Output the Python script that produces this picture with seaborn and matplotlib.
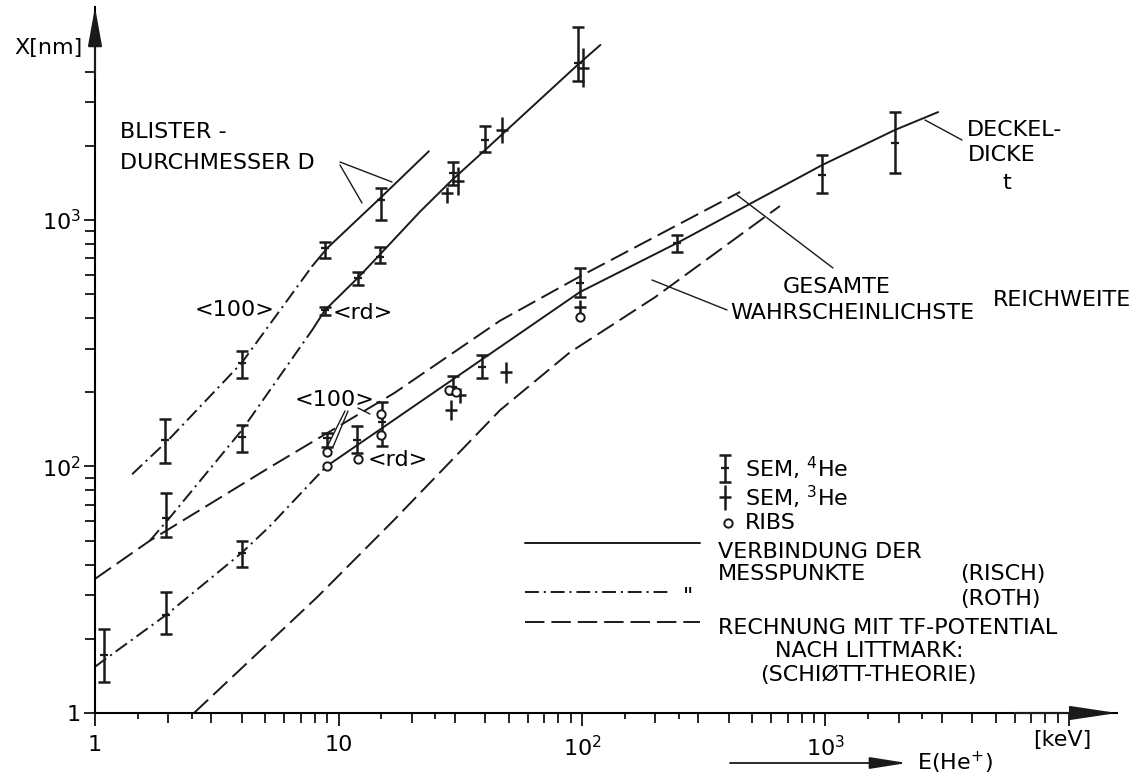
import matplotlib
matplotlib.use("Agg")
import matplotlib.pyplot as plt
from matplotlib.ticker import FixedLocator, NullFormatter, NullLocator
import numpy as np
import seaborn as sns

# ---------------- data: energies E [keV], depths / diameters X [nm] ----------------
# blister diameter D, <100> direction (ROTH dash-dot, RISCH solid)
blister100_roth_E = [1.42, 2.0, 4.0, 7.8]
blister100_roth_X = [93, 128, 263, 650]
blister100_risch_E = [7.8, 9.0, 15.0, 23.5]
blister100_risch_X = [650, 770, 1240, 1900]

# blister diameter D, random direction <rd>
blisterrd_roth_E = [1.68, 2.0, 4.0, 7.8]
blisterrd_roth_X = [50, 61, 140, 358]
blisterrd_risch_E = [7.8, 8.8, 12, 15, 21.6, 29, 40, 96, 119]
blisterrd_risch_X = [358, 431, 582, 735, 1080, 1440, 1923, 4260, 5130]

# cover thickness t
cover_roth_E = [1.0, 1.09, 1.96, 4.0, 5.2, 8.9]
cover_roth_X = [15.4, 16.4, 25, 44.6, 57, 100]
cover_risch_E = [8.9, 46, 98, 246, 968, 1930, 2900]
cover_risch_X = [100, 305, 510, 807, 1670, 2320, 2740]

# TF potential after Littmark (Schiøtt theory)
total_range_E = [1.0, 1.68, 5.2, 17, 46, 98, 446]
total_range_X = [35, 50, 99, 199, 390, 590, 1300]
probable_range_E = [2.55, 8.2, 17, 46, 89, 200, 650]
probable_range_X = [10, 29.6, 61, 169, 290, 487, 1140]

# SEM, 4He: energy, value, lower and upper end of the bar
sem4_E = [1.94, 4.0, 8.8, 15.0,
          1.96, 4.0, 8.8, 12.0, 14.8, 29.6, 40, 96,
          1.09, 1.96, 4.0, 8.96, 11.9, 15.1, 29.6, 38.8, 98, 246, 968, 1930]
sem4_X = [128, 263, 770, 1200,
          62, 132, 431, 582, 708, 1550, 2110, 4340,
          17.2, 25, 44.6, 131, 128, 151, 210, 254, 555, 807, 1525, 2050]
sem4_lo = [103, 228, 701, 1000,
           52, 115, 412, 545, 670, 1386, 1887, 3660,
           13.4, 21, 39, 120, 113, 121, 197, 228, 487, 741, 1288, 1550]
sem4_hi = [156, 294, 815, 1345,
           78, 147, 444, 615, 777, 1718, 2404, 6070,
           22, 31, 50, 137, 146, 183, 233, 283, 638, 869, 1836, 2740]

# SEM, 3He
sem3_E = [28, 31, 47, 101, 29, 31.5, 48.7, 98]
sem3_X = [1290, 1440, 2320, 4140, 169, 195, 242, 444]
sem3_lo = [1170, 1260, 2050, 3470, 155, 181, 218, 420]
sem3_hi = [1360, 1640, 2620, 4990, 186, 209, 265, 473]

# RIBS
ribs_E = [9, 9, 12, 15, 15, 28.5, 30.5, 98]
ribs_X = [115, 100, 107, 163, 134, 204, 200, 404]

x_tick_values = [1, 10, 100, 1000, 10000]
x_tick_labels = ["1", "10", "$10^2$", "$10^3$", ""]
y_tick_values = [10, 100, 1000]
y_tick_labels = ["1", "$10^2$", "$10^3$"]

# ---------------- style ----------------
sns.set_theme(style="ticks", rc={"axes.edgecolor": "black", "xtick.color": "black",
                                 "ytick.color": "black", "text.color": "black"})
plt.rcParams["font.family"] = ["DejaVu Sans"]
plt.rcParams["mathtext.default"] = "regular"
plt.rcParams["lines.scale_dashes"] = False

SOLID = "-"
DASHDOT = (0, (10, 3.5, 1.5, 3.5))
DASHED = (0, (14, 5))
LW = 1.4
FS = 16

W, H = 1144, 778
fig = plt.figure(figsize=(W / 100, H / 100), dpi=100)

AX_L, AX_R, AX_B, AX_T = 95, 1117, 713, 7
ax = fig.add_axes([AX_L / W, 1 - AX_B / H, (AX_R - AX_L) / W, (AX_B - AX_T) / H])
ax.set_xscale("log")
ax.set_yscale("log")
ax.set_xlim(1, 10 ** ((AX_R - AX_L) / 243.5))
ax.set_ylim(10, 10 ** (1 + (AX_B - AX_T) / 246.5))

for side in ("top", "right"):
    ax.spines[side].set_visible(False)
for side in ("left", "bottom"):
    ax.spines[side].set_linewidth(1.5)

# axis arrows
ax.annotate("", xy=(1.0, 0), xytext=(0.9, 0), xycoords="axes fraction",
            arrowprops=dict(arrowstyle="-|>,head_length=2.4,head_width=0.36",
                            color="k", lw=1.5, shrinkA=0, shrinkB=0))
ax.annotate("", xy=(0, 1.0), xytext=(0, 0.9), xycoords="axes fraction",
            arrowprops=dict(arrowstyle="-|>,head_length=2.0,head_width=0.36",
                            color="k", lw=1.5, shrinkA=0, shrinkB=0))

# ticks
ax.set_xticks(x_tick_values)
ax.set_xticklabels(x_tick_labels)
ax.xaxis.set_minor_locator(FixedLocator([m * 10 ** k for k in range(4) for m in range(2, 10)]))
ax.xaxis.set_minor_formatter(NullFormatter())
ax.set_yticks(y_tick_values)
ax.set_yticklabels(y_tick_labels)
ax.yaxis.set_minor_locator(FixedLocator([m * 10 ** k for k in (1, 2) for m in range(2, 10)]
                                        + [2000, 3000, 4000]))
ax.yaxis.set_minor_formatter(NullFormatter())
ax.tick_params(axis="x", which="major", length=9, width=1.2, labelsize=FS, pad=7)
ax.tick_params(axis="x", which="minor", length=7, width=1.2)
ax.tick_params(axis="y", which="major", length=8, width=1.2, labelsize=FS, pad=2)
ax.tick_params(axis="y", which="minor", length=7, width=1.2)

sec = ax.secondary_xaxis("bottom")
sec.set_xticks([m * 10 ** k for k in range(4) for m in (1.5, 2.5)])
sec.xaxis.set_minor_locator(NullLocator())
sec.xaxis.set_major_formatter(NullFormatter())
sec.tick_params(length=4, width=1.2)
sec.spines["bottom"].set_visible(False)

# ---------------- curves ----------------
def curve(E, X, ls):
    sns.lineplot(x=E, y=X, ax=ax, color="k", lw=LW, linestyle=ls,
                 sort=False, estimator=None)

curve(blister100_roth_E, blister100_roth_X, DASHDOT)
curve(blister100_risch_E, blister100_risch_X, SOLID)
curve(blisterrd_roth_E, blisterrd_roth_X, DASHDOT)
curve(blisterrd_risch_E, blisterrd_risch_X, SOLID)
curve(cover_roth_E, cover_roth_X, DASHDOT)
curve(cover_risch_E, cover_risch_X, SOLID)
curve(total_range_E, total_range_X, DASHED)
curve(probable_range_E, probable_range_X, DASHED)

# ---------------- measured points ----------------
def sem4(axis, E, X, lo, hi):
    yerr = [np.subtract(X, lo), np.subtract(hi, X)]
    axis.errorbar(E, X, yerr=yerr, fmt="none", ecolor="k", elinewidth=1.8,
                  capsize=4, capthick=1.8, zorder=3)
    sns.scatterplot(x=E, y=X, ax=axis, marker="_", s=30, color="k",
                    linewidth=1.6, zorder=3)

def sem3(axis, E, X, lo, hi):
    yerr = [np.subtract(X, lo), np.subtract(hi, X)]
    axis.errorbar(E, X, yerr=yerr, fmt="none", ecolor="k", elinewidth=1.8,
                  capsize=0, zorder=3)
    sns.scatterplot(x=E, y=X, ax=axis, marker="_", s=70, color="k",
                    linewidth=1.8, zorder=3)

def ribs(axis, E, X):
    sns.scatterplot(x=E, y=X, ax=axis, marker="o", s=36, color="white",
                    edgecolor="k", linewidth=1.4, zorder=4)

sem4(ax, sem4_E, sem4_X, sem4_lo, sem4_hi)
sem3(ax, sem3_E, sem3_X, sem3_lo, sem3_hi)
ribs(ax, ribs_E, ribs_X)

# ---------------- overlay for labels, leaders and legend (pixel space) ----------------
ov = fig.add_axes([0, 0, 1, 1], zorder=5)
ov.set_xlim(0, W)
ov.set_ylim(H, 0)
ov.axis("off")
ov.patch.set_alpha(0)

def label(x, y, s, ha="left", size=FS):
    ov.text(x, y, s, ha=ha, va="center", fontsize=size)

def leader(x1, y1, x2, y2, lw=1.0):
    ov.plot([x1, x2], [y1, y2], color="k", lw=lw)

label(48, 48, "X[nm]", ha="center")
label(1062, 740, "[keV]", ha="center")
label(955, 763, "E(He$^{+}$)", ha="center")
ov.annotate("", xy=(907, 763), xytext=(730, 763),
            arrowprops=dict(arrowstyle="-|>,head_length=1.9,head_width=0.3",
                            color="k", lw=1.3, shrinkA=0, shrinkB=0))

label(120, 132, "BLISTER -")
label(120, 163, "DURCHMESSER D")
leader(340, 162, 392, 182)
leader(340, 165, 362, 203)
label(195, 310, "<100>")
label(333, 313, "<rd>")
label(295, 400, "<100>")
leader(345, 411, 327, 447)
leader(348, 411, 333, 447)
leader(358, 408, 370, 414)
label(368, 460, "<rd>")
label(783, 287, "GESAMTE")
leader(833, 268, 737, 195)
label(730, 313, "WAHRSCHEINLICHSTE")
leader(727, 310, 652, 280)
label(993, 300, "REICHWEITE")
label(967, 130, "DECKEL-")
label(968, 155, "DICKE")
label(1007, 183, "t", ha="center")
leader(925, 120, 962, 140)

# symbol key
sem4(ov, [725], [468], [455], [482])
label(745, 468, "SEM, $^4$He")
sem3(ov, [725], [497], [485], [510])
label(745, 497, "SEM, $^3$He")
ribs(ov, [728], [523])
label(745, 523, "RIBS")

# line key
ov.plot([525, 700], [543, 543], color="k", lw=LW, linestyle=SOLID)
label(718, 552, "VERBINDUNG DER")
label(718, 574, "MESSPUNKTE")
label(960, 574, "(RISCH)")
ov.plot([525, 668], [592, 592], color="k", lw=LW, linestyle=DASHDOT)
label(683, 597, '"')
label(960, 599, "(ROTH)")
ov.plot([525, 700], [622, 622], color="k", lw=LW, linestyle=DASHED)
label(718, 628, "RECHNUNG MIT TF-POTENTIAL")
label(775, 651, "NACH LITTMARK:")
label(760, 675, "(SCHIØTT-THEORIE)")

fig.savefig("out.png", dpi=100, facecolor="white")
